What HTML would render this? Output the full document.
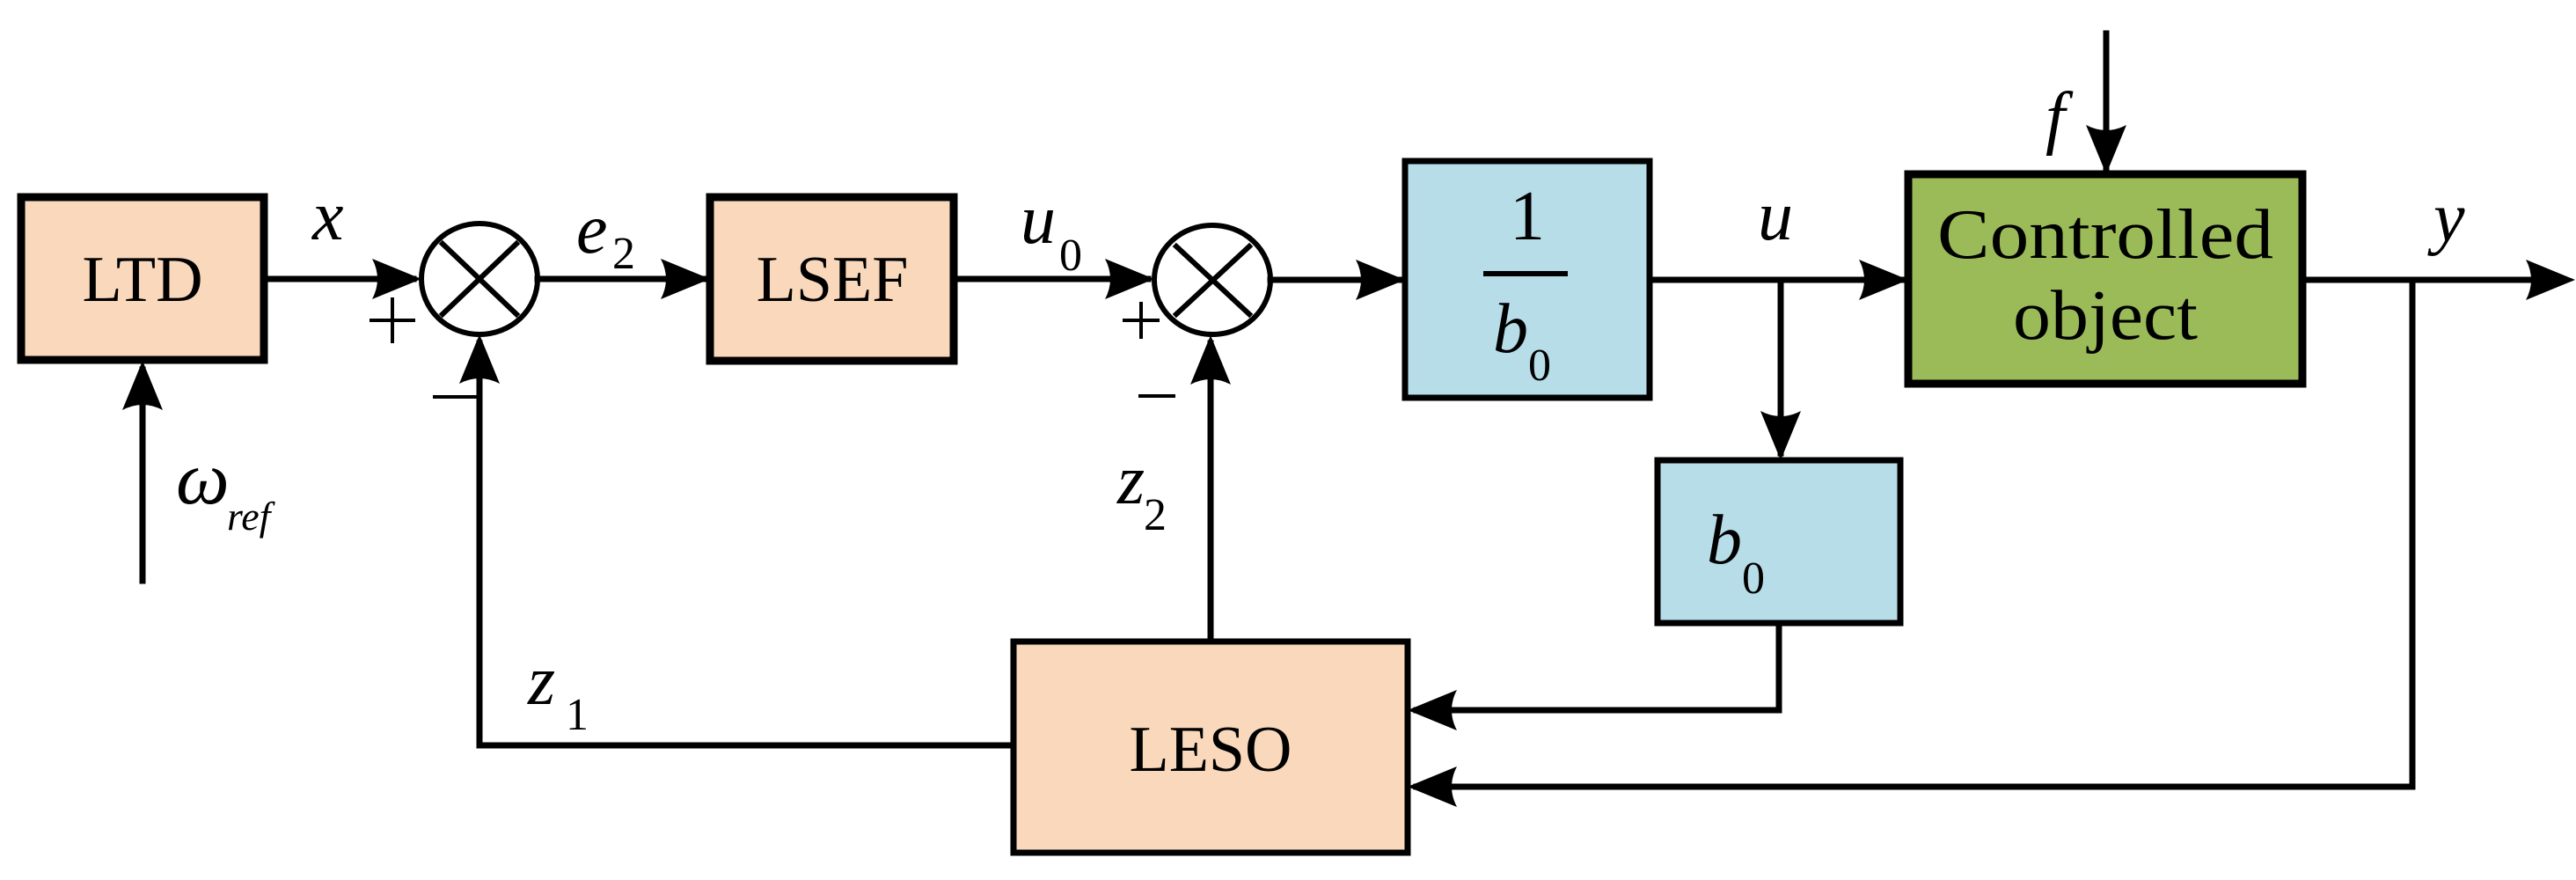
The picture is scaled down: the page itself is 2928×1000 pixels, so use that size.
<!DOCTYPE html>
<html><head><meta charset="utf-8"><style>html,body{margin:0;padding:0;background:#fff}svg{display:block}svg text{font-family:"Liberation Serif","DejaVu Serif",serif}</style></head>
<body>
<svg width="2928" height="1000" viewBox="0 0 2928 1000" xmlns="http://www.w3.org/2000/svg">
<defs>
<g id="ah"><path d="M0,0 L-56,-23 Q-44,0 -56,23 Z" fill="#000"/></g>
</defs>
<g stroke="#000" stroke-width="7" fill="none" stroke-linecap="square">
<rect x="24" y="224" width="276" height="185" fill="#f9d8bb" stroke-width="9"/>
<rect x="807" y="224" width="277" height="186" fill="#f9d8bb" stroke-width="9"/>
<rect x="1597" y="183" width="278" height="269" fill="#b7dde8"/>
<rect x="1884" y="523" width="276" height="185" fill="#b7dde8"/>
<rect x="2169" y="198" width="448" height="238" fill="#9bbb59" stroke-width="9"/>
<rect x="1152" y="729" width="448" height="240" fill="#f9d8bb"/>
<ellipse cx="545" cy="317" rx="66" ry="63" stroke-width="6"/>
<line x1="503" y1="277" x2="587" y2="357" stroke-width="6"/>
<line x1="587" y1="277" x2="503" y2="357" stroke-width="6"/>
<ellipse cx="1378" cy="318" rx="66" ry="62" stroke-width="6"/>
<line x1="1337" y1="280" x2="1420" y2="357" stroke-width="6"/>
<line x1="1420" y1="280" x2="1337" y2="357" stroke-width="6"/>
<line x1="300" y1="317" x2="470" y2="317"/>
<line x1="611" y1="317" x2="800" y2="317"/>
<line x1="1084" y1="317" x2="1305" y2="317"/>
<line x1="1444" y1="318" x2="1590" y2="318"/>
<line x1="1875" y1="318" x2="2162" y2="318"/>
<line x1="2617" y1="318" x2="2910" y2="318"/>
<line x1="162" y1="660" x2="162" y2="420"/>
<line x1="545" y1="847" x2="545" y2="390"/>
<line x1="545" y1="847" x2="1152" y2="847"/>
<line x1="1376" y1="729" x2="1376" y2="390"/>
<line x1="2024" y1="318" x2="2024" y2="515"/>
<line x1="2022" y1="708" x2="2022" y2="807"/>
<line x1="2022" y1="807" x2="1610" y2="807"/>
<line x1="2742" y1="318" x2="2742" y2="894"/>
<line x1="2742" y1="894" x2="1610" y2="894"/>
<line x1="2394" y1="38" x2="2394" y2="190"/>
<line x1="422" y1="364" x2="470" y2="364" stroke-width="4"/>
<line x1="446" y1="340" x2="446" y2="388" stroke-width="4"/>
<line x1="494" y1="451" x2="540" y2="451" stroke-width="4"/>
<line x1="1296" y1="450" x2="1334" y2="450" stroke-width="4"/>
<line x1="1278" y1="364" x2="1316" y2="364" stroke-width="4"/>
<line x1="1297" y1="345" x2="1297" y2="383" stroke-width="4"/>
</g>
<use href="#ah" transform="translate(479,317)"/>
<use href="#ah" transform="translate(807,317)"/>
<use href="#ah" transform="translate(1312,317)"/>
<use href="#ah" transform="translate(1597,318)"/>
<use href="#ah" transform="translate(2169,318)"/>
<use href="#ah" transform="translate(2927,318)"/>
<use href="#ah" transform="translate(162,410) rotate(-90)"/>
<use href="#ah" transform="translate(545,380) rotate(-90)"/>
<use href="#ah" transform="translate(1376,381) rotate(-90)"/>
<use href="#ah" transform="translate(2024,523) rotate(90)"/>
<use href="#ah" transform="translate(2394,198) rotate(90)"/>
<use href="#ah" transform="translate(1600,807) rotate(180)"/>
<use href="#ah" transform="translate(1600,894) rotate(180)"/>
<g font-size="74" text-anchor="middle">
<text x="162" y="342">LTD</text>
<text x="946" y="342">LSEF</text>
<text x="1376" y="876">LESO</text>
<text x="2393" y="293" font-size="80" textLength="382" lengthAdjust="spacingAndGlyphs">Controlled</text>
<text x="2393" y="385" font-size="80" textLength="210" lengthAdjust="spacingAndGlyphs">object</text>
<text x="1736" y="272" font-size="80">1</text>
</g>
<line x1="1686" y1="311" x2="1782" y2="311" stroke="#000" stroke-width="6"/>
<g font-style="italic" font-size="80">
<text x="355" y="272">x</text>
<text x="655" y="287">e</text>
<text x="1160" y="276">u</text>
<text x="1998" y="272">u</text>
<text x="2766" y="274">y</text>
<text x="2325" y="160">f</text>
<text x="1697" y="400">b</text>
<text x="1940" y="640">b</text>
<text x="1270" y="572">z</text>
<text x="600" y="800">z</text>
<text x="200" y="572" font-size="86">ω</text>
<text x="258" y="602" font-size="46">ref</text>
</g>
<g font-size="52">
<text x="696" y="305">2</text>
<text x="1204" y="307">0</text>
<text x="1737" y="432">0</text>
<text x="1980" y="674">0</text>
<text x="1300" y="602">2</text>
<text x="643" y="829">1</text>
</g>
</svg>
</body></html>
